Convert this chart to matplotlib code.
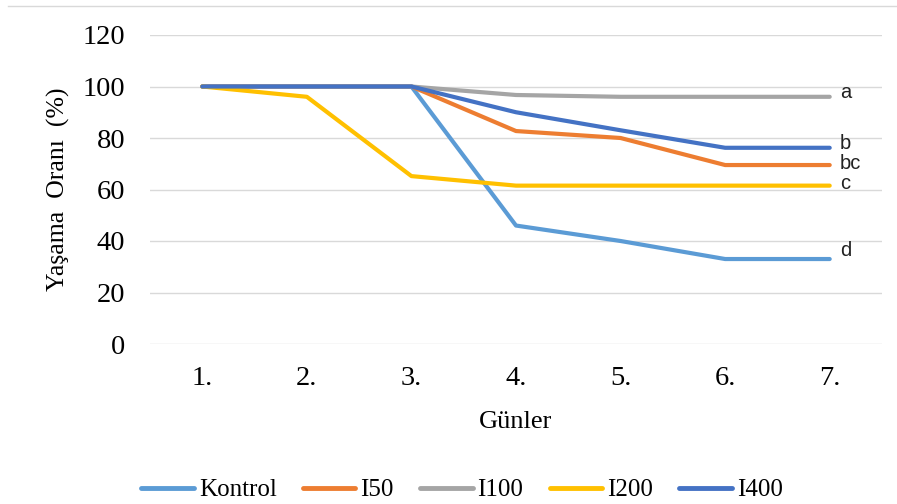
import matplotlib
matplotlib.use("Agg")
import matplotlib.pyplot as plt
from matplotlib.transforms import offset_copy

days = ["1.", "2.", "3.", "4.", "5.", "6.", "7."]
kontrol = [100, 100, 100, 46, 40, 33, 33]
i50 = [100, 100, 100, 82.7, 80, 69.5, 69.5]
i100 = [100, 100, 100, 96.7, 96, 96, 96]
i200 = [100, 96, 65.2, 61.5, 61.5, 61.5, 61.5]
i400 = [100, 100, 100, 90, 83, 76.2, 76.2]
series_names = ["Kontrol", "I50", "I100", "I200", "I400"]
colors = ["#5B9BD5", "#ED7D31", "#A5A5A5", "#FFC000", "#4472C4"]
letters = ["d", "bc", "a", "c", "b"]
letter_offsets = [9, 2, 4, 2, 4]  # pixels upward
yticks = [0, 20, 40, 60, 80, 100, 120]

fig = plt.figure(figsize=(8.97, 5.04), dpi=100)
ax = fig.add_axes([150/897, 1 - 344/504, (882-150)/897, (344-35)/504])
x = list(range(len(days)))
data = [kontrol, i50, i100, i200, i400]
for name, vals, c in zip(series_names, data, colors):
    ax.plot(x, vals, color=c, lw=3, label=name, solid_capstyle="round", zorder=3)
for vals, lab, off in zip(data, letters, letter_offsets):
    tr = offset_copy(ax.transData, fig=fig, x=10, y=off, units="dots")
    ax.text(x[-1], vals[-1], lab, fontsize=14.5, family="Liberation Sans",
            va="center", ha="left", color="#222222", transform=tr)

ax.set_xlim(-0.5, len(days) - 0.5)
ax.set_ylim(0, 120)
ax.set_yticks(yticks)
ax.set_xticks(x)
ax.set_xticklabels(days)
ax.grid(axis="y", color="#D9D9D9", lw=1)
ax.set_axisbelow(True)
for s in ax.spines.values():
    s.set_visible(False)
ax.tick_params(length=0, labelsize=20.5)
for lbl in ax.get_xticklabels() + ax.get_yticklabels():
    lbl.set_family("Liberation Serif")
ax.tick_params(axis="y", pad=18)
ax.tick_params(axis="x", pad=16)
ax.set_xlabel("Günler", fontsize=19, family="Liberation Serif", labelpad=14)
ax.set_ylabel("Yaşama  Oranı  (%)", fontsize=18.5, family="Liberation Serif", labelpad=9)

leg = fig.legend(loc="center", bbox_to_anchor=(462/897, 1 - 490/504), ncol=5,
                 frameon=False, prop={"family": "Liberation Serif", "size": 18},
                 handlelength=2.1, columnspacing=1.05, handletextpad=0.2)
for h in leg.get_lines():
    h.set_linewidth(3.5)

fig.add_artist(plt.Line2D([8/897, 1], [1 - 6/504, 1 - 6/504], color="#D9D9D9", lw=1))
fig.savefig("out.png", dpi=100)
